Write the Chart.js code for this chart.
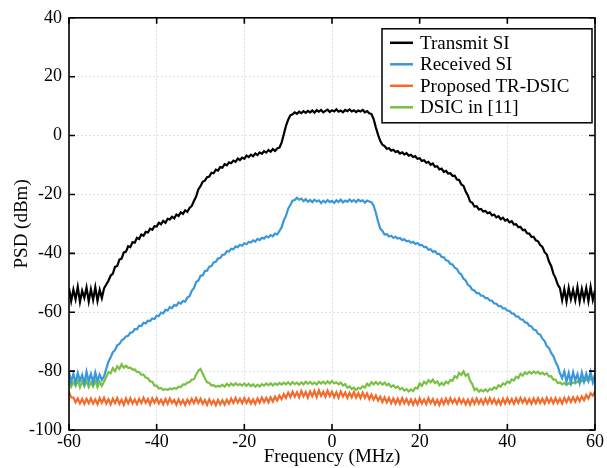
<!DOCTYPE html>
<html>
<head>
<meta charset="utf-8">
<script src="https://cdn.jsdelivr.net/npm/chart.js@4.4.1/dist/chart.umd.min.js"></script>
<style>
  html, body { margin: 0; padding: 0; background: #fff; }
  #wrap { width: 607px; height: 468px; }
</style>
</head>
<body>
<div id="wrap"><canvas id="psdChart" width="607" height="468"></canvas></div>
<script>
// frequency grid (MHz), 0.5 MHz spacing
var freq = [
  -60, -59.5, -59, -58.5, -58, -57.5, -57, -56.5, -56, -55.5,
  -55, -54.5, -54, -53.5, -53, -52.5, -52, -51.5, -51, -50.5,
  -50, -49.5, -49, -48.5, -48, -47.5, -47, -46.5, -46, -45.5,
  -45, -44.5, -44, -43.5, -43, -42.5, -42, -41.5, -41, -40.5,
  -40, -39.5, -39, -38.5, -38, -37.5, -37, -36.5, -36, -35.5,
  -35, -34.5, -34, -33.5, -33, -32.5, -32, -31.5, -31, -30.5,
  -30, -29.5, -29, -28.5, -28, -27.5, -27, -26.5, -26, -25.5,
  -25, -24.5, -24, -23.5, -23, -22.5, -22, -21.5, -21, -20.5,
  -20, -19.5, -19, -18.5, -18, -17.5, -17, -16.5, -16, -15.5,
  -15, -14.5, -14, -13.5, -13, -12.5, -12, -11.5, -11, -10.5,
  -10, -9.5, -9, -8.5, -8, -7.5, -7, -6.5, -6, -5.5,
  -5, -4.5, -4, -3.5, -3, -2.5, -2, -1.5, -1, -0.5,
  0, 0.5, 1, 1.5, 2, 2.5, 3, 3.5, 4, 4.5,
  5, 5.5, 6, 6.5, 7, 7.5, 8, 8.5, 9, 9.5,
  10, 10.5, 11, 11.5, 12, 12.5, 13, 13.5, 14, 14.5,
  15, 15.5, 16, 16.5, 17, 17.5, 18, 18.5, 19, 19.5,
  20, 20.5, 21, 21.5, 22, 22.5, 23, 23.5, 24, 24.5,
  25, 25.5, 26, 26.5, 27, 27.5, 28, 28.5, 29, 29.5,
  30, 30.5, 31, 31.5, 32, 32.5, 33, 33.5, 34, 34.5,
  35, 35.5, 36, 36.5, 37, 37.5, 38, 38.5, 39, 39.5,
  40, 40.5, 41, 41.5, 42, 42.5, 43, 43.5, 44, 44.5,
  45, 45.5, 46, 46.5, 47, 47.5, 48, 48.5, 49, 49.5,
  50, 50.5, 51, 51.5, 52, 52.5, 53, 53.5, 54, 54.5,
  55, 55.5, 56, 56.5, 57, 57.5, 58, 58.5, 59, 59.5,
  60
];

// PSD in dBm, one value per frequency point
var transmitSI = [
  -51.8, -56.2, -52.3, -55.6, -51.4, -56.5, -52.7, -55.1, -51.6, -56.3,
  -52.2, -55.8, -51.5, -56.1, -52.4, -55.2, -51.9, -50.6, -49.3, -47.6,
  -46.9, -44.6, -44.3, -42.1, -41.8, -39.7, -39.4, -37.6, -37.9, -36.2,
  -36.4, -34.7, -35.1, -33.6, -34.0, -32.7, -32.9, -31.6, -32.0, -30.8,
  -30.9, -29.6, -30.1, -29.0, -29.6, -28.3, -28.5, -27.6, -28.1, -26.8,
  -27.3, -26.1, -26.6, -25.4, -25.9, -24.6, -23.9, -22.2, -20.7, -18.3,
  -17.2, -15.7, -15.3, -14.1, -13.9, -12.6, -12.8, -11.6, -11.9, -10.7,
  -10.9, -9.7, -10.1, -9.1, -9.4, -8.5, -8.9, -7.8, -8.3, -7.5,
  -7.9, -6.8, -7.3, -6.5, -7.0, -6.1, -6.6, -5.7, -6.2, -5.3,
  -5.8, -4.9, -5.5, -4.6, -5.2, -4.4, -4.1, -2.4, 0.4, 3.3,
  5.4, 6.9, 7.2, 7.9, 7.4, 8.1, 7.6, 8.3, 7.7, 8.4,
  7.9, 8.5, 7.8, 8.6, 8.1, 8.7, 7.9, 8.4, 8.8, 8.0,
  8.6, 8.2, 8.9, 8.1, 8.5, 7.9, 8.7, 8.3, 8.9, 8.2,
  8.6, 8.0, 8.5, 8.2, 8.7, 7.9, 8.3, 7.6, 7.3, 5.6,
  2.8, 0.3, -1.8, -3.1, -3.6, -4.5, -4.3, -5.1, -4.8, -5.6,
  -5.3, -6.1, -5.7, -6.4, -6.0, -6.8, -6.5, -7.3, -7.0, -7.9,
  -7.7, -8.6, -8.4, -9.2, -8.9, -9.9, -9.5, -10.6, -10.4, -11.5,
  -11.2, -12.3, -12.0, -12.9, -12.8, -13.7, -13.6, -14.9, -15.1, -16.6,
  -17.1, -19.0, -20.3, -22.4, -22.8, -24.1, -24.0, -25.1, -24.9, -25.8,
  -25.6, -26.4, -26.1, -27.1, -26.8, -27.8, -27.4, -28.4, -27.9, -28.9,
  -28.5, -29.5, -29.1, -30.2, -30.1, -31.1, -31.0, -32.1, -32.0, -33.2,
  -33.3, -34.4, -34.4, -35.6, -35.9, -37.2, -37.8, -39.6, -40.4, -42.8,
  -44.3, -46.9, -48.4, -50.6, -51.8, -55.9, -52.1, -56.4, -51.7, -55.6,
  -52.4, -55.9, -51.5, -56.3, -52.1, -55.7, -51.8, -56.2, -51.4, -55.8,
  -52.6
];

var receivedSI = [
  -80.4, -83.6, -80.9, -84.0, -80.6, -83.2, -81.3, -84.1, -80.2, -83.5,
  -81.0, -83.9, -80.5, -83.4, -81.2, -83.0, -81.8, -79.2, -76.8, -75.3,
  -73.6, -72.9, -71.2, -70.8, -69.6, -69.1, -68.2, -68.0, -66.9, -66.8,
  -65.7, -65.8, -64.6, -64.7, -63.6, -63.8, -62.9, -63.0, -62.1, -62.3,
  -61.2, -61.3, -60.1, -60.4, -59.2, -59.4, -58.3, -58.6, -57.5, -57.8,
  -56.7, -57.1, -56.2, -56.4, -55.0, -54.6, -52.7, -51.8, -49.7, -49.3,
  -47.6, -47.5, -46.0, -45.9, -44.5, -44.3, -43.1, -42.9, -41.7, -41.6,
  -40.5, -40.4, -39.3, -39.4, -38.4, -38.6, -37.7, -37.9, -37.1, -37.4,
  -36.6, -36.9, -36.1, -36.3, -35.6, -36.0, -35.1, -35.5, -34.7, -35.0,
  -34.2, -34.6, -33.8, -34.2, -33.3, -33.6, -32.4, -31.2, -28.8, -27.3,
  -24.8, -23.6, -22.1, -21.9, -21.1, -21.8, -21.4, -22.3, -21.6, -22.5,
  -21.9, -22.6, -21.8, -22.4, -22.0, -22.9, -22.1, -22.7, -21.9, -22.6,
  -22.2, -22.9, -22.0, -22.6, -21.8, -22.7, -22.1, -22.5, -21.7, -22.4,
  -21.9, -22.6, -21.8, -22.3, -22.0, -22.8, -22.1, -22.4, -22.6, -23.8,
  -26.2, -29.1, -31.6, -32.4, -33.6, -33.5, -34.3, -34.0, -34.7, -34.4,
  -35.0, -34.8, -35.5, -35.2, -35.9, -35.7, -36.4, -36.1, -36.8, -36.5,
  -37.2, -37.1, -37.9, -37.8, -38.8, -38.6, -39.5, -39.2, -40.2, -40.2,
  -41.2, -41.3, -42.4, -42.6, -43.6, -43.8, -44.9, -45.3, -46.6, -47.2,
  -48.6, -49.2, -50.7, -51.2, -52.4, -52.6, -53.5, -53.5, -54.4, -54.4,
  -55.2, -55.2, -56.0, -56.1, -57.0, -57.1, -57.9, -57.9, -58.7, -58.7,
  -59.5, -59.5, -60.4, -60.5, -61.4, -61.5, -62.4, -62.5, -63.4, -63.6,
  -64.6, -64.8, -65.9, -66.1, -67.3, -67.6, -69.0, -69.8, -71.5, -72.2,
  -73.8, -74.9, -76.8, -78.3, -80.7, -82.4, -80.1, -83.5, -80.6, -83.9,
  -80.4, -83.2, -81.0, -84.0, -80.5, -83.6, -80.9, -83.3, -80.3, -83.8,
  -81.2
];

var proposedTRDSIC = [
  -87.2, -88.9, -89.0, -90.6, -89.3, -91.0, -89.5, -91.1, -89.4, -90.9,
  -89.3, -91.0, -89.6, -91.2, -89.2, -90.8, -89.1, -91.0, -89.6, -91.3,
  -89.4, -90.9, -89.1, -91.1, -89.7, -91.4, -89.3, -90.9, -89.2, -91.0,
  -89.6, -91.2, -89.4, -90.9, -89.1, -90.8, -89.5, -91.3, -89.3, -90.7,
  -89.2, -91.0, -89.7, -91.3, -89.5, -91.1, -89.3, -90.8, -89.8, -91.4,
  -89.6, -91.2, -89.9, -91.5, -89.7, -91.0, -89.4, -90.9, -89.2, -90.8,
  -89.4, -91.1, -89.8, -91.4, -89.6, -91.2, -90.0, -91.6, -89.8, -91.3,
  -89.9, -91.4, -89.7, -91.0, -89.3, -90.8, -89.1, -90.7, -89.4, -90.9,
  -89.2, -90.8, -89.4, -91.0, -89.6, -91.1, -89.3, -90.7, -89.0, -90.5,
  -89.1, -90.6, -88.9, -90.3, -88.7, -90.0, -88.3, -89.5, -87.8, -89.1,
  -87.3, -88.8, -87.0, -88.7, -87.2, -88.9, -86.8, -88.6, -87.1, -89.0,
  -86.9, -88.5, -86.7, -88.8, -86.5, -88.4, -87.0, -88.7, -86.6, -88.5,
  -87.0, -88.8, -87.2, -89.0, -86.9, -88.6, -87.3, -89.1, -87.4, -88.9,
  -87.1, -89.0, -87.5, -89.2, -87.3, -89.1, -87.6, -89.5, -88.0, -89.7,
  -88.3, -90.0, -88.7, -90.5, -88.9, -90.6, -89.1, -90.9, -89.3, -91.0,
  -89.4, -91.1, -89.2, -90.9, -89.5, -91.2, -89.6, -91.4, -89.7, -91.3,
  -89.3, -91.0, -89.6, -91.2, -89.2, -90.9, -89.5, -91.3, -89.8, -91.5,
  -89.6, -91.2, -89.4, -91.0, -89.2, -90.8, -89.5, -91.1, -89.3, -90.9,
  -89.6, -91.3, -89.7, -91.4, -89.5, -91.1, -89.3, -91.0, -89.6, -91.2,
  -89.4, -91.0, -89.2, -90.9, -89.5, -91.2, -89.7, -91.3, -89.4, -91.0,
  -89.2, -90.9, -89.5, -91.1, -89.3, -90.8, -89.1, -90.7, -89.3, -91.0,
  -89.5, -91.1, -89.3, -90.9, -89.2, -90.8, -89.4, -91.0, -89.1, -90.7,
  -89.3, -90.9, -89.2, -90.8, -89.4, -91.0, -89.1, -90.6, -89.0, -90.5,
  -88.9, -90.4, -88.8, -90.2, -88.6, -89.9, -88.1, -89.3, -87.5, -88.3,
  -87.0
];

var dsicRef11 = [
  -83.2, -85.3, -83.7, -85.0, -83.1, -85.5, -83.5, -85.1, -83.3, -85.4,
  -83.8, -85.2, -83.2, -85.5, -83.6, -85.0, -83.5, -82.0, -80.3, -80.7,
  -79.0, -80.0, -78.4, -79.3, -77.7, -78.8, -78.2, -78.9, -78.8, -79.5,
  -79.4, -80.3, -80.3, -81.2, -81.2, -82.2, -82.4, -83.5, -83.6, -84.9,
  -84.9, -85.9, -85.7, -86.4, -86.1, -86.4, -85.9, -86.2, -85.7, -86.0,
  -85.3, -85.4, -84.5, -84.6, -83.9, -83.8, -82.9, -82.8, -81.2, -79.9,
  -79.3, -80.8, -82.4, -83.8, -84.0, -84.9, -84.8, -85.3, -85.0, -85.2,
  -84.6, -85.3, -84.3, -85.0, -84.2, -84.9, -84.1, -84.8, -84.4, -84.9,
  -84.2, -85.0, -84.3, -85.1, -84.5, -85.3, -84.6, -85.2, -84.4, -84.9,
  -84.2, -84.8, -84.1, -84.9, -84.2, -84.7, -84.0, -84.6, -83.9, -84.5,
  -83.8, -84.6, -83.7, -84.4, -83.9, -84.6, -83.8, -84.5, -83.6, -84.3,
  -83.7, -84.4, -83.9, -84.5, -83.6, -84.2, -83.6, -84.3, -83.5, -84.2,
  -83.4, -84.2, -83.8, -84.5, -83.9, -84.9, -84.4, -85.6, -85.2, -86.1,
  -85.6, -86.4, -85.7, -86.0, -85.1, -85.6, -84.3, -84.9, -83.8, -84.5,
  -83.7, -84.5, -83.8, -84.6, -83.9, -84.8, -84.3, -85.4, -84.8, -85.7,
  -85.2, -86.2, -85.7, -86.6, -86.1, -86.9, -86.2, -86.8, -85.6, -85.9,
  -84.2, -85.0, -83.6, -84.3, -83.1, -83.8, -82.9, -84.1, -83.5, -84.8,
  -84.0, -84.7, -83.6, -84.2, -83.0, -83.3, -81.7, -82.3, -80.6, -81.3,
  -80.1, -81.6, -81.0, -83.2, -84.4, -86.4, -85.9, -87.0, -86.4, -86.9,
  -86.2, -86.9, -86.0, -86.4, -85.5, -86.0, -84.8, -85.3, -84.2, -84.6,
  -83.5, -84.0, -82.8, -83.2, -81.9, -82.4, -80.9, -81.5, -80.4, -81.0,
  -80.2, -80.8, -80.1, -80.7, -80.2, -81.0, -80.5, -81.2, -80.7, -81.8,
  -81.7, -82.9, -82.9, -84.1, -83.8, -84.5, -84.0, -84.7, -84.1, -84.5,
  -83.8, -84.2, -83.5, -84.0, -83.1, -83.6, -82.8, -83.3, -82.5, -83.1,
  -82.2
];

var seriesNames = ['Transmit SI', 'Received SI', 'Proposed TR-DSIC', 'DSIC in [11]'];
var seriesValues = [transmitSI, receivedSI, proposedTRDSIC, dsicRef11];
var seriesColors = ['#000000', '#3a97d9', '#f26b2c', '#78c143'];

var xTicks = [-60, -40, -20, 0, 20, 40, 60];
var yTicks = [-100, -80, -60, -40, -20, 0, 20, 40];

var serif = "'Liberation Serif', 'Times New Roman', serif";

function toPoints(vals) {
    return vals.map(function (v, i) { return { x: freq[i], y: v }; });
}

// box around the plot with inward tick marks on all four sides
var frameTicks = {
    id: 'frameTicks',
    afterDatasetsDraw: function (chart) {
        var ctx = chart.ctx, a = chart.chartArea;
        var xs = chart.scales.x, ys = chart.scales.y;
        var len = 6;
        ctx.save();
        ctx.strokeStyle = '#000';
        ctx.lineWidth = 1.6;
        ctx.strokeRect(a.left, a.top, a.right - a.left, a.bottom - a.top);
        ctx.beginPath();
        xTicks.forEach(function (t) {
            var px = xs.getPixelForValue(t);
            ctx.moveTo(px, a.bottom); ctx.lineTo(px, a.bottom - len);
            ctx.moveTo(px, a.top); ctx.lineTo(px, a.top + len);
        });
        yTicks.forEach(function (t) {
            var py = ys.getPixelForValue(t);
            ctx.moveTo(a.left, py); ctx.lineTo(a.left + len, py);
            ctx.moveTo(a.right, py); ctx.lineTo(a.right - len, py);
        });
        ctx.stroke();
        ctx.restore();
    }
};

// boxed legend in the upper right corner of the plot
var boxLegend = {
    id: 'boxLegend',
    afterDraw: function (chart) {
        var ctx = chart.ctx, a = chart.chartArea;
        var w = 210, h = 94;
        var x0 = a.right - w - 3, y0 = a.top + 11;
        ctx.save();
        ctx.fillStyle = '#fff';
        ctx.fillRect(x0, y0, w, h);
        ctx.strokeStyle = '#000';
        ctx.lineWidth = 1.5;
        ctx.strokeRect(x0, y0, w, h);
        ctx.font = '19px ' + serif;
        ctx.textBaseline = 'middle';
        chart.data.datasets.forEach(function (ds, i) {
            var cy = y0 + 14 + i * 21.5;
            ctx.strokeStyle = ds.borderColor;
            ctx.lineWidth = 2.5;
            ctx.beginPath();
            ctx.moveTo(x0 + 8, cy);
            ctx.lineTo(x0 + 31, cy);
            ctx.stroke();
            ctx.fillStyle = '#000';
            ctx.fillText(ds.label, x0 + 38, cy + 1);
        });
        ctx.restore();
    }
};

var gridColor = 'rgba(185,198,212,0.5)';

var ctx = document.getElementById('psdChart').getContext('2d');
var psdChart = new Chart(ctx, {
    type: 'line',
    data: {
        datasets: seriesNames.map(function (name, i) {
            return {
                label: name,
                data: toPoints(seriesValues[i]),
                borderColor: seriesColors[i],
                borderWidth: 2.2,
                pointRadius: 0,
                tension: 0,
                fill: false
            };
        })
    },
    options: {
        responsive: false,
        animation: false,
        layout: { padding: { left: 0, right: 12, top: 13, bottom: 0 } },
        plugins: {
            legend: { display: false },
            tooltip: { enabled: false }
        },
        scales: {
            x: {
                type: 'linear',
                min: -60,
                max: 60,
                afterBuildTicks: function (scale) {
                    scale.ticks = xTicks.map(function (v) { return { value: v }; });
                },
                afterFit: function (scale) { scale.height = 38; },
                ticks: {
                    color: '#000',
                    font: { family: serif, size: 18 },
                    padding: 1,
                    maxRotation: 0
                },
                grid: { color: gridColor, drawTicks: false, lineWidth: 1 },
                border: { display: false, dash: [2, 2] },
                title: {
                    display: true,
                    text: 'Frequency (MHz)',
                    color: '#000',
                    font: { family: serif, size: 19, lineHeight: 1 },
                    padding: { top: 0, bottom: 1 }
                }
            },
            y: {
                min: -100,
                max: 40,
                afterBuildTicks: function (scale) {
                    scale.ticks = yTicks.map(function (v) { return { value: v }; });
                },
                afterFit: function (scale) { scale.width = 69; },
                ticks: {
                    color: '#000',
                    font: { family: serif, size: 18 },
                    padding: 7
                },
                grid: { color: gridColor, drawTicks: false, lineWidth: 1 },
                border: { display: false, dash: [2, 2] },
                title: {
                    display: true,
                    text: 'PSD (dBm)',
                    color: '#000',
                    font: { family: serif, size: 19, lineHeight: 1 },
                    padding: { top: 13, bottom: 0 }
                }
            }
        }
    },
    plugins: [frameTicks, boxLegend]
});
</script>
</body>
</html>
